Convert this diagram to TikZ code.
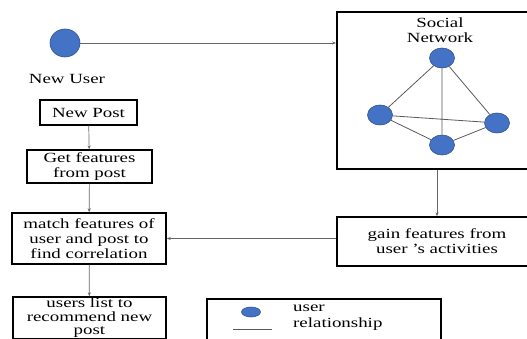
\documentclass[tikz,border=0pt]{standalone}
\usepackage{fontspec}
\setmainfont{Liberation Serif}[FakeStretch=1.35]
\usetikzlibrary{positioning, arrows.meta, shapes.geometric}
\definecolor{userblue}{RGB}{68,114,196}
\definecolor{userrim}{RGB}{47,82,143}
\tikzset{
    x=1pt, y=-1pt, % one unit per pixel, y going down
    >={Stealth[length=4pt,width=3pt]}, % small arrow heads
    every node/.style={font=\fontsize{14}{15}\selectfont, align=center},
    box/.style={draw, line width=1.4pt, inner sep=0pt}, % the process boxes
    user/.style={ellipse, draw=userrim, fill=userblue, line width=0.6pt, minimum width=25pt, minimum height=20pt, inner sep=0pt},
    flow/.style={->, draw=gray!80!black, line width=0.7pt}, % arrows between boxes
    link/.style={draw=gray!70!black, line width=0.8pt}, % relationships
    }

\begin{document}
\begin{tikzpicture}
\useasboundingbox (0,0) rectangle (527,339);
\clip (0,0) rectangle (527,339);

% new user and the left column
\node[user, minimum width=30pt, minimum height=28pt] (u) at (65,43) {};
\node (nu) at (67,79) {New User};
\node[box, minimum width=97pt, minimum height=25pt] (1) at (88.5,112.5) {New Post};
\node[box, minimum width=125pt, minimum height=33pt] (2) at (89.5,166.5) {Get features\\from post};
\node[box, minimum width=154pt, minimum height=51pt] (3) at (89,238.5) {match features of\\user and post to\\find correlation};
\node[box, minimum width=153pt, minimum height=42pt, font=\fontsize{14}{13.5}\selectfont] (4) at (89.5,318) {users list to\\recommend new\\post};

% social network
\node[box, line width=1.8pt, minimum width=200pt, minimum height=157pt] (sn) at (437,90.5) {};
\node (snt) at (440,30) {Social\\Network};
\node[user] (a) at (442,58) {};
\node[user] (b) at (380,115) {};
\node[user] (c) at (497,123) {};
\node[user] (d) at (442,145) {};
\draw[link] (a) -- (b) (a) -- (c) (a) -- (d)
            (b) -- (c) (b) -- (d) (d) -- (c);

\node[box, minimum width=200pt, minimum height=49pt] (5) at (437,241.5) {gain features from\\user 's activities};

% legend
\node[box, minimum width=234pt, minimum height=50pt] (lg) at (324,324) {};
\node[user, minimum width=19pt, minimum height=10pt] (lu) at (251,312) {};
\coordinate (la) at (233,329);
\coordinate (lb) at (272,329);
\draw[link] (la) -- (lb);
\node[anchor=west, inner sep=0pt] (lt1) at (293,308) {user};
\node[anchor=west, inner sep=0pt] (lt2) at (293,324) {relationship};

% arrows
\draw[flow] (u) -- (u -| sn.west);
\draw[flow] (1) -- (2);
\draw[flow] (2) -- (3);
\draw[flow] (3) -- (4);
\draw[flow] (sn) -- (5);
\draw[flow] (5.west |- 3.east) -- (3.east);

\end{tikzpicture}
\end{document}
